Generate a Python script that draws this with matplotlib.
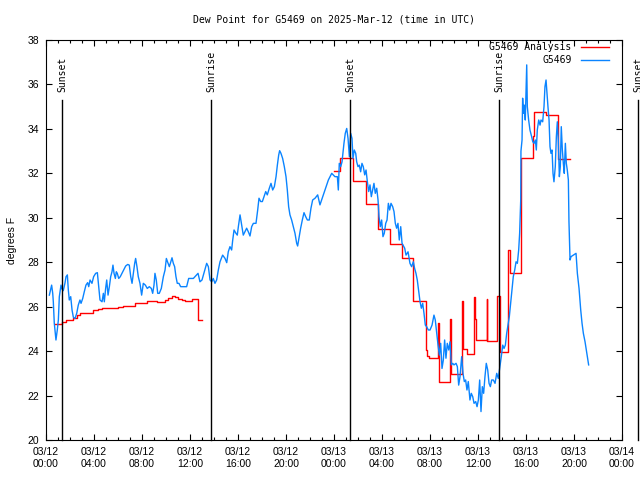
import numpy as np
import pandas as pd
import matplotlib
matplotlib.use('Agg')
import matplotlib.pyplot as plt
import matplotlib.dates as mdates
import matplotlib.transforms as mtransforms

# hours after 2025-03-12 00:00 UTC
obs_hours = [
    0.28, 0.47, 0.56, 0.61, 0.69, 0.83, 0.94, 1.03, 1.11, 1.25, 1.33, 1.44,
    1.58, 1.67, 1.78, 1.86, 1.94, 2.06, 2.17, 2.28, 2.42, 2.56, 2.69, 2.83,
    2.92, 3.06, 3.19, 3.33, 3.47, 3.56, 3.67, 3.83, 3.97, 4.14, 4.28, 4.39,
    4.5, 4.67, 4.78, 4.86, 4.97, 5.06, 5.17, 5.28, 5.39, 5.5, 5.58, 5.67,
    5.78, 5.86, 5.94, 6.06, 6.19, 6.33, 6.5, 6.64, 6.81, 6.94, 7.06, 7.17,
    7.28, 7.39, 7.47, 7.58, 7.69, 7.83, 7.97, 8.11, 8.28, 8.44, 8.61, 8.78,
    8.89, 9.0, 9.08, 9.19, 9.31, 9.44, 9.61, 9.78, 9.92, 10.03, 10.14, 10.28,
    10.39, 10.5, 10.61, 10.72, 10.83, 10.94, 11.08, 11.22, 11.72, 11.89,
    12.28, 12.56, 12.67, 12.83, 13.0, 13.19, 13.39, 13.53, 13.67, 13.81,
    13.94, 14.08, 14.22, 14.36, 14.5, 14.72, 14.92, 15.06, 15.19, 15.33,
    15.47, 15.56, 15.67, 15.83, 15.94, 16.03, 16.17, 16.31, 16.44, 16.58,
    16.72, 16.86, 17.0, 17.14, 17.28, 17.5, 17.64, 17.75, 17.89, 18.03,
    18.17, 18.31, 18.44, 18.61, 18.75, 18.89, 19.03, 19.17, 19.28, 19.39,
    19.47, 19.58, 19.72, 19.86, 20.0, 20.11, 20.22, 20.33, 20.47, 20.61,
    20.75, 20.89, 20.97, 21.08, 21.22, 21.36, 21.5, 21.64, 21.78, 21.94,
    22.08, 22.22, 22.42, 22.64, 22.83, 23.06, 23.25, 23.39, 23.53, 23.67,
    23.81, 23.94, 24.08, 24.28, 24.36, 24.44, 24.56, 24.67, 24.83, 24.94,
    25.06, 25.17, 25.28, 25.39, 25.5, 25.58, 25.69, 25.81, 25.89, 26.0,
    26.11, 26.22, 26.33, 26.44, 26.56, 26.67, 26.78, 26.89, 27.0, 27.11,
    27.22, 27.33, 27.44, 27.56, 27.67, 27.75, 27.86, 27.97, 28.08, 28.19,
    28.31, 28.42, 28.53, 28.64, 28.75, 28.89, 29.0, 29.11, 29.22, 29.33,
    29.44, 29.56, 29.67, 29.89, 30.0, 30.17, 30.33, 30.47, 30.61, 30.72,
    30.83, 30.94, 31.06, 31.17, 31.28, 31.39, 31.5, 31.61, 31.72, 31.86,
    32.0, 32.17, 32.33, 32.44, 32.56, 32.67, 32.78, 32.89, 33.0, 33.11,
    33.22, 33.33, 33.44, 33.56, 33.67, 33.78, 33.89, 34.0, 34.17, 34.28,
    34.39, 34.5, 34.64, 34.75, 34.86, 34.97, 35.08, 35.19, 35.33, 35.44,
    35.56, 35.67, 35.81, 35.92, 36.03, 36.14, 36.25, 36.36, 36.47, 36.58,
    36.69, 36.81, 36.92, 37.03, 37.14, 37.28, 37.42, 37.56, 37.69, 37.83,
    37.94, 38.06, 38.17, 38.28, 38.39, 38.5, 38.61, 38.72, 38.83, 38.94,
    39.06, 39.17, 39.28, 39.39, 39.47, 39.56, 39.58, 39.67, 39.72, 39.78,
    39.86, 39.94, 40.06, 40.11, 40.22, 40.33, 40.47, 40.56, 40.67, 40.78,
    40.86, 40.94, 41.06, 41.17, 41.25, 41.39, 41.5, 41.58, 41.67, 41.75,
    41.83, 41.92, 42.0, 42.08, 42.17, 42.25, 42.33, 42.44, 42.53, 42.61,
    42.69, 42.78, 42.86, 42.94, 43.03, 43.11, 43.19, 43.28, 43.36, 43.44,
    43.53, 43.58, 43.67, 43.75, 43.94, 44.17, 44.28, 44.42, 44.56, 44.67,
    44.78, 44.92, 45.03, 45.17, 45.22,
]
obs_dewpt = [
    26.52, 26.97, 26.6, 26.22, 25.26, 24.5, 24.95, 25.4, 26.45, 26.97, 26.8, 26.72,
    27.06, 27.35, 27.43, 26.75, 26.3, 26.45, 25.85, 25.52, 25.47, 25.7, 26.07, 26.3,
    26.15, 26.37, 26.67, 26.97, 27.08, 26.9, 27.2, 27.05, 27.35, 27.5, 27.53, 26.9,
    26.3, 26.22, 26.6, 26.22, 26.82, 27.2, 26.52, 26.9, 27.35, 27.57, 27.87, 27.5,
    27.27, 27.57, 27.5, 27.27, 27.35, 27.5, 27.68, 27.83, 27.9, 27.87, 27.35, 27.05,
    27.5, 27.95, 28.17, 27.8, 27.35, 27.05, 26.52, 27.05, 26.97, 26.82, 26.9, 26.82,
    26.6, 26.97, 27.5, 27.2, 26.6, 26.6, 26.82, 27.35, 27.65, 28.17, 28.0, 27.8,
    28.0, 28.2, 27.95, 27.8, 27.35, 27.05, 27.05, 26.9, 26.9, 27.27,
    27.27, 27.43, 27.5, 27.12, 27.2, 27.57, 27.95, 27.8, 27.2, 27.12,
    27.27, 27.05, 27.2, 27.65, 28.02, 28.32, 28.17, 27.98, 28.47, 28.7,
    28.55, 29.0, 29.45, 29.3, 29.22, 29.6, 30.13, 29.67, 29.22, 29.37,
    29.53, 29.37, 29.18, 29.6, 29.75, 29.75, 30.35, 30.88, 30.73, 30.73,
    30.95, 31.18, 31.03, 31.33, 31.55, 31.25, 31.4, 31.85, 32.37, 32.82,
    33.02, 32.9, 32.67, 32.3, 31.85, 31.25, 30.5, 30.13, 29.9, 29.6,
    29.3, 28.85, 28.73, 29.07, 29.53, 29.9, 30.23, 30.05, 29.9, 29.9,
    30.43, 30.8, 30.88, 31.03, 30.58, 30.95, 31.25, 31.48, 31.7, 31.85,
    32.0, 31.93, 31.85, 31.85, 31.25, 32.45, 32.3, 32.52, 33.35, 33.8,
    34.02, 33.57, 32.75, 33.8, 33.57, 32.67, 33.05, 32.9, 32.52, 32.3,
    32.37, 32.07, 32.45, 32.3, 31.93, 32.15, 31.62, 31.18, 31.48, 30.95,
    31.25, 31.55, 31.1, 31.33, 30.8, 30.05, 29.6, 29.9, 29.15, 29.3,
    29.75, 29.9, 30.65, 30.35, 30.65, 30.5, 30.28, 29.75, 29.53, 29.75,
    29.0, 29.6, 28.85, 28.63, 28.32, 28.47, 27.95, 27.8, 28.02, 27.72,
    27.5, 27.2, 26.67, 26.22, 25.93, 26.15, 25.7, 25.17, 25.1, 24.95,
    24.95, 25.17, 25.62, 25.4, 24.8, 24.27, 23.82, 24.35, 23.22, 23.6,
    24.5, 23.68, 24.35, 24.05, 24.42, 23.38, 23.45, 23.38, 23.45, 23.3,
    22.47, 22.85, 23.75, 23.0, 22.63, 22.7, 22.25, 22.63, 21.8, 22.1,
    21.95, 21.65, 21.73, 21.5, 21.8, 22.7, 21.28, 22.4, 22.1, 22.85,
    23.45, 23.15, 22.55, 22.4, 22.7, 22.7, 22.55, 23.0, 22.77, 23.3,
    23.75, 24.27, 24.12, 24.27, 24.8, 25.17, 25.55, 26.15, 26.75, 27.35,
    27.65, 28.02, 27.95, 28.55, 29.3, 30.8, 33.0, 33.5, 35.38, 34.7,
    35.07, 34.4, 36.88, 35.0, 34.4, 33.95, 33.65, 33.43, 33.35, 33.5,
    33.05, 33.95, 34.4, 34.17, 34.4, 34.32, 35.0, 35.9, 36.2, 35.6,
    35.0, 34.4, 33.2, 32.9, 33.05, 32.0, 31.62, 32.3, 33.65, 34.32,
    33.5, 31.85, 32.3, 34.1, 33.05, 32.45, 32.0, 33.35, 32.45, 32.15,
    31.7, 29.83, 28.1, 28.25, 28.32, 28.4, 27.5, 26.82, 25.85, 25.25,
    24.8, 24.42, 24.05, 23.6, 23.38,
]

# analysis (drawn as steps), nan = no analysis
ana_hours = [
    0.75, 1.3, 1.64, 2.28, 2.6, 2.83, 3.94, 4.3, 4.64, 6.03, 6.44, 7.42,
    8.39, 9.22, 9.92, 10.2, 10.5, 10.75, 11.0, 11.3, 11.58, 12.14, 12.69, 12.97,
    24.0, 24.5, 25.61, 26.64, 27.69, 28.67, 29.64, 30.61, 31.64, 31.75, 31.94,
    32.69, 32.75, 33.67, 33.72, 34.69, 34.73, 34.78, 35.06, 35.69, 35.73,
    35.81, 36.72, 36.76, 37.56, 37.83, 38.53, 38.67, 39.56, 40.61, 40.69,
    41.64, 42.64, 43.67,
]
ana_dewpt = [
    25.2, 25.3, 25.4, 25.5, 25.62, 25.7, 25.85, 25.9, 25.95, 26.0, 26.05, 26.15,
    26.25, 26.2, 26.3, 26.4, 26.5, 26.45, 26.35, 26.3, 26.25, 26.35, 25.4, np.nan,
    32.1, 32.7, 31.65, 30.62, 29.5, 28.8, 28.17, 26.25, 24.05, 23.78, 23.67,
    25.25, 22.62, 25.44, 22.97, 26.25, 25.17, 24.08, 23.87, 26.43, 25.43,
    24.5, 26.34, 24.45, 26.48, 23.94, 28.55, 27.5, 32.7, 33.7, 34.76,
    34.61, 32.65, 32.65,
]

sun_hours = [1.33, 13.75, 25.33, 37.75, 49.33]
sun_labels = ['Sunset', 'Sunrise', 'Sunset', 'Sunrise', 'Sunset']

start = pd.Timestamp('2025-03-12 00:00')
obs_t = start + pd.to_timedelta(obs_hours, unit='h')
ana_t = start + pd.to_timedelta(ana_hours, unit='h')
sun_t = start + pd.to_timedelta(sun_hours, unit='h')

mono = 'DejaVu Sans Mono'
sans = 'Liberation Sans'

fig = plt.figure(figsize=(6.4, 4.8), dpi=100)
ax = fig.add_axes([46 / 640, 40 / 480, 576 / 640, 400 / 480])

ax.plot(ana_t, ana_dewpt, color='#ff0000', lw=1.0, drawstyle='steps-post',
        label='G5469 Analysis')
ax.plot(obs_t, obs_dewpt, color='#0a84ff', lw=1.0, label='G5469')

trans = mtransforms.blended_transform_factory(ax.transData, ax.transAxes)
for t, lab in zip(sun_t, sun_labels):
    ax.axvline(t, ymin=0, ymax=0.85, color='black', lw=1.0, clip_on=False,
               zorder=5)
    ax.text(t, 0.87, lab, transform=trans, rotation=90, ha='center',
            va='bottom', family=mono, fontsize=7, clip_on=False)

ax.set_xlim(start, start + pd.Timedelta(hours=48))
ax.set_ylim(20, 38)
ax.set_yticks(np.arange(20, 39, 2))
ax.xaxis.set_major_locator(mdates.HourLocator(byhour=range(0, 24, 4)))
ax.xaxis.set_minor_locator(mdates.HourLocator())
ax.xaxis.set_major_formatter(mdates.DateFormatter('%m/%d\n%H:%M'))

ax.tick_params(which='both', direction='in', top=True, right=True,
               width=0.8, labelsize=7.5)
ax.tick_params(which='major', length=4.5)
ax.tick_params(which='minor', length=2.5)
ax.tick_params(axis='x', pad=5)
ax.tick_params(axis='y', pad=5)
for lbl in ax.get_xticklabels() + ax.get_yticklabels():
    lbl.set_family(sans)
    lbl.set_linespacing(1.2)
for s in ax.spines.values():
    s.set_linewidth(0.8)

ax.set_ylabel('degrees F', family=sans, fontsize=7.5)
ax.yaxis.set_label_coords(-0.05, 0.5)

fig.text((46 + 622) / 2 / 640, 1 - 20 / 480, 'Dew Point for G5469 on 2025-Mar-12 (time in UTC)',
         ha='center', va='center', family=mono, fontsize=7)

ax.legend(loc='upper right', bbox_to_anchor=(0.978, 0.995), frameon=False,
          markerfirst=False, prop={'family': mono, 'size': 7},
          handlelength=2.9, handletextpad=1.0, labelspacing=0.3,
          borderpad=0, borderaxespad=0)

fig.savefig('out.png', dpi=100)
